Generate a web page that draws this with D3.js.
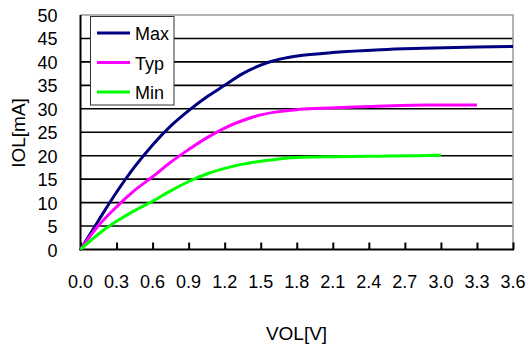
<!DOCTYPE html>
<html><head><meta charset="utf-8">
<script src="https://cdn.jsdelivr.net/npm/d3@7"></script>
<style>body{margin:0;background:#fff}svg{display:block}text{font-family:"Liberation Sans",Arial,sans-serif;fill:#000}</style>
</head><body>
<script>
const xTicks = ["0.0","0.3","0.6","0.9","1.2","1.5","1.8","2.1","2.4","2.7","3.0","3.3","3.6"];
const yTicks = [0,5,10,15,20,25,30,35,40,45,50];
const seriesNames = ["Max","Typ","Min"];
const seriesColors = ["#000080","#FF00FF","#00FF00"];
const maxV = [0,0.15,0.3,0.45,0.6,0.75,0.9,1.05,1.2,1.35,1.5,1.6,1.7,1.85,2.1,2.5,2.85,3.3,3.6];
const maxI = [0,6.2,12.2,17.6,22.3,26.3,29.6,32.5,35.0,37.5,39.3,40.2,40.8,41.4,42.0,42.6,42.9,43.2,43.3];
const typV = [0,0.15,0.3,0.45,0.6,0.75,0.9,1.05,1.2,1.35,1.5,1.65,1.8,2.0,2.4,2.9,3.3];
const typI = [0,5.1,9.1,12.6,15.5,18.6,21.3,23.8,25.9,27.5,28.7,29.4,29.8,30.1,30.5,30.8,30.8];
const minV = [0,0.15,0.3,0.45,0.6,0.75,0.9,1.05,1.2,1.35,1.5,1.65,1.8,2.1,2.5,2.8,3.0];
const minI = [0,3.3,6.0,8.3,10.3,12.5,14.5,16.1,17.3,18.2,18.8,19.3,19.6,19.8,19.9,20.0,20.1];

const W=528,H=347;
const L=80.5,R=513,T=15,B=249.5;
const svg=d3.select("body").append("svg").attr("width",W).attr("height",H);
const x=d3.scaleLinear().domain([0,3.6]).range([L,R]);
const y=d3.scaleLinear().domain([0,50]).range([B,T]);

// gridlines
svg.append("g").selectAll("line").data(yTicks.filter(d=>d>0&&d<50)).join("line")
  .attr("x1",L).attr("x2",R).attr("y1",d=>y(d)).attr("y2",d=>y(d))
  .attr("stroke","#000").attr("stroke-width",1.6);
// top & right border
svg.append("path").attr("d",`M${L},${y(50)}H${R}V${B}`).attr("fill","none").attr("stroke","#999").attr("stroke-width",1.5);

// y labels
svg.append("g").selectAll("text").data(yTicks).join("text")
  .attr("x",57.5).attr("y",d=>y(d)+7).attr("text-anchor","end")
  .style("font-size","18px").text(d=>d);

// x axis with inward ticks
const xa=d3.axisBottom(x).tickValues(xTicks.map(Number)).tickSize(-7).tickFormat("");
const gx=svg.append("g").attr("transform",`translate(0,${B})`).call(xa);
gx.select(".domain").remove();
gx.selectAll(".tick line").attr("stroke","#000").attr("stroke-width",2);
svg.append("line").attr("x1",L-1).attr("x2",R+1).attr("y1",B).attr("y2",B).attr("stroke","#000").attr("stroke-width",2);
svg.append("line").attr("x1",L).attr("x2",L).attr("y1",T).attr("y2",B+1).attr("stroke","#000").attr("stroke-width",2);

svg.append("g").selectAll("text").data(xTicks).join("text")
  .attr("x",d=>x(+d)).attr("y",288).attr("text-anchor","middle")
  .style("font-size","18px").text(d=>d);

// titles
svg.append("text").attr("x",296.5).attr("y",340).attr("text-anchor","middle").style("font-size","19px").text("VOL[V]");
svg.append("text").attr("transform","translate(25,133) rotate(-90)").attr("text-anchor","middle").style("font-size","19px").text("IOL[mA]");

// lines
const line=d3.line().x(d=>x(d[0])).y(d=>y(d[1])).curve(d3.curveMonotoneX);
const data=[d3.zip(maxV,maxI),d3.zip(typV,typI),d3.zip(minV,minI)];
svg.append("g").selectAll("path").data(data).join("path")
  .attr("d",line).attr("fill","none").attr("stroke",(d,i)=>seriesColors[i]).attr("stroke-width",3);

// legend
const lg=svg.append("g");
lg.append("rect").attr("x",90.5).attr("y",16.5).attr("width",83.5).attr("height",88.5).attr("fill","#fff").attr("stroke","#333").attr("stroke-width",1);
seriesNames.forEach((n,i)=>{
  const yy=33+i*29.5;
  lg.append("line").attr("x1",97).attr("x2",130).attr("y1",yy).attr("y2",yy).attr("stroke",seriesColors[i]).attr("stroke-width",3);
  lg.append("text").attr("x",135).attr("y",yy+7).style("font-size","18px").text(n);
});
</script>
</body></html>
